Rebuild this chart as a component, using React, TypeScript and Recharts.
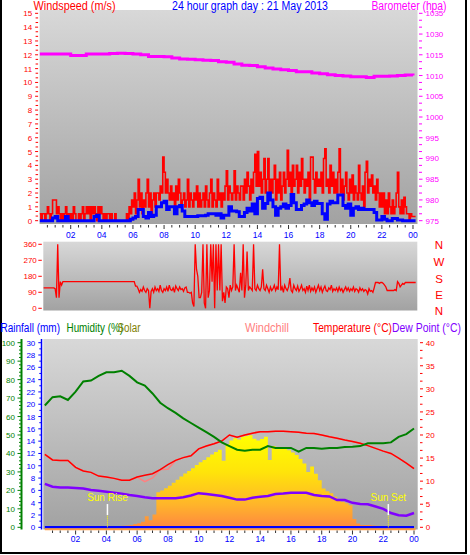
import React from 'react';
import { ComposedChart, Line, Area, XAxis, YAxis, CartesianGrid, ReferenceLine, ReferenceDot } from 'recharts';

const FONT = '"Liberation Sans", Arial, sans-serif';

// ---- time axis ----
const hourLabels = ['02', '04', '06', '08', '10', '12', '14', '16', '18', '20', '22', '00'];
const labelHours = [2, 4, 6, 8, 10, 12, 14, 16, 18, 20, 22, 24];

// wind gust (m/s), 5 minute samples, one row per hour
const gustRows: number[][] = [
  [0.5, 0, 0.5, 0.5, 0, 0.5, 1.0, 0.5, 0, 0.5, 1.5, 1.5],
  [1.5, 0.5, 1.0, 0.5, 0, 0.5, 0, 0.5, 1.0, 0, 0.5, 0],
  [0.5, 0, 1.0, 0.5, 0, 0, 0.5, 0, 0.5, 1.0, 0, 0.5],
  [1.0, 0.5, 1.0, 0, 1.0, 0.5, 1.0, 0.5, 0, 1.0, 0.5, 1.0],
  [0.5, 0, 0.5, 0, 0.5, 0.5, 0, 0.5, 0, 0, 0.5, 0],
  [0, 0, 0, 0, 0, 0, 0, 0.5, 0, 1.0, 0.5, 1.5],
  [1.0, 2.0, 0.5, 1.5, 3.0, 1.0, 2.0, 0.5, 1.5, 1.0, 2.0, 3.0],
  [1.0, 2.0, 0.5, 1.5, 2.0, 1.0, 2.0, 2.0, 1.5, 2.5, 2.0, 4.6],
  [3.5, 2.0, 3.0, 2.0, 1.5, 2.5, 1.5, 2.0, 1.0, 2.5, 1.5, 3.0],
  [2.0, 1.0, 1.5, 2.0, 1.0, 1.5, 3.0, 1.0, 2.0, 1.5, 1.0, 2.0],
  [1.5, 2.5, 1.0, 2.0, 1.0, 1.5, 2.0, 1.0, 2.5, 1.5, 1.0, 2.0],
  [3.0, 1.0, 2.0, 1.5, 1.0, 3.0, 1.5, 2.0, 1.0, 2.0, 1.5, 2.5],
  [3.6, 1.5, 2.5, 2.0, 1.5, 2.0, 3.6, 1.5, 2.5, 2.0, 1.5, 2.5],
  [2.5, 1.5, 3.0, 2.0, 3.5, 2.5, 1.5, 3.0, 2.0, 3.5, 4.8, 2.5],
  [5.0, 2.5, 3.5, 2.0, 3.0, 4.5, 2.0, 3.0, 4.5, 1.5, 3.0, 2.0],
  [3.0, 4.0, 1.5, 3.0, 2.0, 3.5, 1.5, 2.5, 3.5, 2.0, 3.0, 5.1],
  [2.5, 3.5, 2.0, 4.0, 2.5, 3.0, 4.0, 2.0, 3.5, 2.5, 4.5, 3.0],
  [2.0, 3.0, 2.5, 3.5, 1.5, 4.6, 4.6, 3.0, 2.0, 3.5, 2.5, 3.0],
  [2.5, 3.5, 2.0, 4.5, 5.2, 2.5, 3.0, 2.0, 4.0, 2.5, 3.5, 2.0],
  [3.0, 2.0, 3.5, 5.2, 2.0, 3.0, 1.5, 2.5, 3.5, 2.0, 1.5, 3.0],
  [2.0, 3.3, 1.5, 2.5, 2.0, 1.5, 4.0, 2.0, 1.5, 2.5, 1.0, 3.5],
  [4.3, 2.0, 3.0, 2.5, 3.3, 2.0, 2.5, 1.5, 3.0, 2.0, 1.0, 2.0],
  [1.0, 2.0, 0.5, 1.5, 0.5, 2.0, 1.0, 0.5, 1.5, 0.5, 1.0, 2.0],
  [3.5, 1.0, 0.5, 1.5, 0.5, 1.7, 1.0, 0.5, 0.5, 0, 0.5, 0.3],
  [0.3, 0.3, 0.3],
];

// average wind (m/s), 10 minute samples
const avgRows: number[][] = [
  [0, 0, 0, 0, 0, 0.2],
  [0.3, 0, 0, 0, 0.3, 0],
  [0, 0, 0, 0, 0, 0],
  [0, 0, 0, 0.3, 0.4, 0],
  [0, 0, 0, 0, 0, 0],
  [0, 0, 0, 0, 0, 0.1],
  [0.2, 0.3, 0.8, 0.8, 0.3, 0.2],
  [0.6, 0.3, 0.4, 1.0, 1.0, 1.3],
  [1.4, 0.8, 1.0, 1.0, 0.5, 1.0],
  [1.1, 0.7, 0.3, 0.3, 0.3, 0.3],
  [0.3, 0.35, 0.35, 0.35, 0.4, 0.5],
  [0.5, 0.5, 0.4, 0.5, 0.2, 0.4],
  [0.4, 1.0, 0.7, 0.7, 0.65, 0.3],
  [0.3, 0.6, 0.9, 0.7, 1.2, 0.5],
  [1.6, 1.7, 0.9, 1.25, 2.0, 1.5],
  [1.0, 0.4, 0.9, 1.0, 1.2, 0.9],
  [1.1, 1.9, 1.3, 0.8, 0.8, 1.1],
  [1.2, 1.5, 1.3, 1.1, 1.4, 1.25],
  [1.25, 0.5, 0.1, 1.2, 1.4, 1.3],
  [1.3, 1.85, 1.85, 1.1, 0.9, 1.2],
  [0.4, 0.9, 1.0, 0.8, 0.9, 0.8],
  [0.8, 0.8, 0.8, 0.6, 0.05, 0.05],
  [0.3, 0.1, 0, 0, 0.15, 0.15],
  [0.05, 0.05, 0, 0, 0, 0],
  [0, 0],
];

// barometer (hPa), every 30 minutes
const baroValues = [
  1015.2, 1015.2, 1015.2, 1015.2, 1014.8, 1014.8, 1015.2, 1015.2, 1015.2, 1015.3,
  1015.4, 1015.3, 1015.2, 1015.0, 1014.6, 1014.6, 1014.5, 1014.2, 1014.0, 1013.9,
  1013.8, 1013.7, 1013.6, 1013.3, 1013.2, 1012.8, 1012.5, 1012.4, 1012.1, 1011.8,
  1011.6, 1011.4, 1011.2, 1010.9, 1010.9, 1010.6, 1010.4, 1010.2, 1010.0, 1009.9,
  1009.7, 1009.7, 1009.5, 1009.8, 1009.8, 1009.9, 1010.0, 1010.1, 1010.0,
];

// wind direction (degrees), 5 minute samples
const dirRows: number[][] = [
  [115, 115, 115, 115, 115, 115, 115, 115, 115, 115, 115, 115],
  [110, 60, 360, 60, 150, 130, 150, 150, 150, 150, 150, 150],
  [150, 150, 150, 150, 150, 150, 150, 150, 150, 150, 150, 150],
  [150, 150, 150, 150, 150, 150, 150, 150, 150, 150, 150, 150],
  [150, 150, 150, 150, 150, 150, 150, 150, 150, 150, 150, 150],
  [150, 150, 150, 150, 150, 150, 150, 150, 150, 150, 150, 150],
  [150, 150, 125, 125, 110, 90, 105, 95, 120, 100, 90, 110],
  [100, 0, 95, 110, 90, 120, 100, 110, 95, 130, 100, 90],
  [110, 100, 120, 95, 130, 105, 100, 115, 90, 125, 110, 100],
  [120, 105, 110, 95, 115, 120, 90, 90, 85, 90, 30, 10],
  [360, 220, 180, 60, 60, 90, 360, 30, 0, 360, 60, 100],
  [360, 150, 360, 0, 360, 100, 360, 100, 360, 40, 90, 30],
  [120, 110, 60, 130, 100, 120, 360, 100, 130, 110, 90, 200],
  [100, 360, 60, 130, 320, 100, 120, 110, 100, 360, 110, 100],
  [130, 110, 100, 120, 220, 110, 100, 130, 110, 90, 120, 100],
  [110, 130, 100, 120, 105, 360, 100, 120, 90, 130, 110, 100],
  [120, 170, 100, 90, 130, 110, 100, 125, 95, 110, 130, 100],
  [110, 90, 125, 100, 130, 95, 115, 100, 120, 90, 110, 130],
  [100, 120, 90, 110, 125, 100, 95, 115, 105, 130, 95, 110],
  [100, 115, 95, 120, 100, 110, 90, 105, 120, 100, 115, 95],
  [110, 100, 120, 95, 110, 105, 90, 115, 100, 110, 95, 105],
  [100, 80, 110, 95, 100, 90, 115, 145, 145, 145, 140, 145],
  [145, 140, 130, 120, 100, 100, 100, 100, 100, 100, 105, 100],
  [150, 140, 120, 130, 140, 135, 145, 145, 145, 145, 145, 145],
  [145, 145, 145],
];

// every 30 minutes
const humidity = [
  66, 70.5, 71, 69, 73.5, 79, 79.5, 82, 84, 84, 84.8, 82, 78.5, 76.8, 72.5, 67.5, 64.5, 62, 59, 56.5,
  54, 51.5, 49, 46, 44, 42, 41.5, 42, 42, 44, 43, 43, 43, 41, 43, 43, 42.5, 43, 43, 43.5,
  43.7, 44, 45.5, 45.5, 45.5, 46, 49, 50.5, 53.5,
];
const temperature = [
  15.8, 14.6, 14.5, 14.5, 13.0, 12.2, 11.9, 11.1, 10.9, 10.6, 10.2, 10.2, 10.9, 11.3, 11.6, 12.5, 13.6, 14.5, 15.1, 15.5,
  17.0, 17.6, 18.1, 18.7, 20.0, 19.5, 20.0, 20.4, 20.7, 20.7, 20.8, 20.8, 20.7, 20.6, 20.4, 20.3, 20.0, 19.6, 19.3, 18.9,
  18.6, 18.2, 17.7, 17.1, 16.5, 16.0, 15.0, 13.9, 12.7,
];
const windchill = [
  15.8, 14.6, 14.5, 14.5, 13.0, 12.2, 11.9, 11.1, 10.9, 10.6, 10.2, 10.2, 10.9, 9.9, 10.7, 12.5, 12.6, 14.5, 15.1, 15.5,
  17.0, 17.6, 18.1, 18.7, 20.0, 19.5, 20.0, 20.4, 20.7, 20.7, 20.8, 20.8, 20.7, 20.6, 20.4, 20.3, 20.0, 19.6, 19.3, 18.9,
  18.6, 18.2, 17.7, 17.1, 16.5, 16.0, 15.0, 13.9, 12.7,
];
const dewPoint = [
  9.4, 8.8, 8.6, 8.6, 8.5, 8.4, 8.1, 7.9, 7.7, 7.5, 7.3, 7.0, 6.8, 6.5, 6.3, 6.3, 6.3, 6.3, 6.5, 6.9,
  7.4, 7.2, 7.0, 6.8, 6.4, 6.0, 6.0, 6.4, 6.6, 6.8, 7.2, 7.3, 7.5, 7.5, 7.5, 7.0, 6.8, 6.7, 5.9, 5.9,
  5.3, 5.05, 5.0, 4.5, 4.0, 3.1, 2.6, 2.5, 3.1,
];
// solar radiation, every 15 minutes
const solar = [
  0, 0, 0, 0, 0, 0, 0, 0, 0, 0, 0, 0, 0, 0, 0, 0, 0, 0, 0, 5,
  8, 10, 12, 18, 22, 30, 60, 38, 70, 190, 200, 212, 225, 242, 258, 275, 292, 305, 320, 338,
  352, 365, 380, 395, 408, 420, 360, 450, 470, 482, 475, 490, 495, 498, 480, 470, 478, 490, 365, 440,
  432, 430, 428, 418, 405, 392, 370, 345, 300, 330, 290, 255, 210, 195, 185, 165, 150, 138, 130, 120,
  45, 20, 12, 12, 12, 10, 8, 0, 0, 0, 0, 0, 0, 0, 0, 0, 0,
];
// rainfall (mm), hourly
const rainfall = [0, 0, 0, 0, 0, 0, 0, 0, 0, 0, 0, 0, 0, 0, 0, 0, 0, 0, 0, 0, 0, 0, 0, 0, 0];

const sunRiseHour = 4.07;
const sunSetHour = 22.33;

const wsLabels = ['0', '1', '2', '3', '4', '5', '6', '7', '8', '9', '10', '11', '12', '13', '14', '15'];
const baroLabels = ['975', '980', '985', '990', '995', '1000', '1005', '1010', '1015', '1030', '1035'];
const dirLabels = ['0', '90', '180', '270', '360'];
const compassLetters = ['N', 'W', 'S', 'E', 'N'];
const humLabels = ['0', '10', '20', '30', '40', '50', '60', '70', '80', '90', '100'];
const rainLabels = ['0', '2', '4', '6', '8', '10', '12', '14', '16', '18', '20', '22', '24', '26', '28', '30'];
const tempLabels = ['0', '5', '10', '15', '20', '25', '30', '35', '40'];

// ---- tables ----
const toSeries = (vals: number[], step: number) => vals.map((v, i) => ({ h: i * step, v }));
const gustData = toSeries(gustRows.flat(), 1 / 12);
const avgData = toSeries(avgRows.flat(), 1 / 6);
const baroData = toSeries(baroValues, 0.5);
const dirData = toSeries(dirRows.flat(), 1 / 12).filter((d) => d.h >= 0.24);
const humData = toSeries(humidity, 0.5);
const tempData = toSeries(temperature, 0.5);
const chillData = toSeries(windchill, 0.5);
const dewData = toSeries(dewPoint, 0.5);
const rainData = toSeries(rainfall, 1);
const solarData = solar.map((s, i) => ({ h: i / 4, solar: s }));

const steps = (n: number, start: number, step: number) => Array.from({ length: n }, (_, k) => start + k * step);
const halfHours = steps(48, 0.5, 0.5);
const wsTicks = steps(46, 0, 1 / 3);
const baroTicks = steps(31, 975, 5 / 3);
const humTicks = steps(51, 0, 2);
const rainTicks = steps(31, 0, 1);
const tempTicks = steps(25, 0, 5 / 3);

const scaleOf = (axis: any) => (v: number) => (axis && typeof axis.scale === 'function' ? axis.scale(v) : NaN);
const gridX = (vals: number[]) => ({ xAxis }: any) => vals.map(scaleOf(xAxis)).filter((n) => !isNaN(n));
const gridY = (vals: number[]) => ({ yAxis }: any) => vals.map(scaleOf(yAxis)).filter((n) => !isNaN(n));

const xTick = (labelDy: number) => (p: any) => {
  const { x, y, payload } = p;
  const li = labelHours.indexOf(payload.value);
  return (
    <g>
      <line x1={x} x2={x} y1={y + 1} y2={y + (li >= 0 ? 5 : 3.5)} stroke="#333" />
      {li >= 0 && (
        <text x={x} y={y + labelDy} textAnchor="middle" fill="#0000ff" fontSize={8.5} fontFamily={FONT}>
          {hourLabels[li]}
        </text>
      )}
    </g>
  );
};

type YTickCfg = {
  side: 'left' | 'right';
  color: string;
  every: number;
  labels: string[];
  majorLen: number;
  minorLen: number;
  gap: number;
  textGap: number;
};

const yTick = (cfg: YTickCfg) => (p: any) => {
  const { x, y, index } = p;
  const dir = cfg.side === 'left' ? -1 : 1;
  const major = index % cfg.every === 0;
  const len = major ? cfg.majorLen : cfg.minorLen;
  const label = major ? cfg.labels[index / cfg.every] : null;
  return (
    <g>
      {len > 0 && <line x1={x + dir * cfg.gap} x2={x + dir * (cfg.gap + len)} y1={y} y2={y} stroke={cfg.color} />}
      {label != null && (
        <text x={x + dir * cfg.textGap} y={y} dy={3} textAnchor={cfg.side === 'left' ? 'end' : 'start'} fill={cfg.color} fontSize={8} fontFamily={FONT}>
          {label}
        </text>
      )}
    </g>
  );
};

const plotBg = (id: string) => (
  <defs>
    <linearGradient id={id} x1="0" y1="0" x2="0" y2="1">
      <stop offset="0%" stopColor="#d8d8d8" />
      <stop offset="100%" stopColor="#a2a2a2" />
    </linearGradient>
  </defs>
);

const noLine = { tickLine: false, axisLine: false, tickSize: 0, tickMargin: 0, interval: 0 as const, allowDataOverflow: true };

function WindPanel() {
  return (
    <ComposedChart width={470} height={245} data={gustData} margin={{ top: 10, right: 0, bottom: 0, left: 0 }}>
      {plotBg('bg1')}
      <CartesianGrid
        xAxisId={0}
        yAxisId="ws"
        fill="url(#bg1)"
        stroke="#ffffff"
        strokeDasharray="1 4"
        horizontalCoordinatesGenerator={gridY(steps(15, 1, 1))}
        verticalCoordinatesGenerator={gridX(labelHours)}
      />
      <XAxis type="number" dataKey="h" domain={[0, 24.29]} ticks={halfHours} tick={xTick(14)} height={21} {...noLine} />
      <YAxis
        yAxisId="ws"
        width={39.6}
        domain={[-0.24, 15.24]}
        ticks={wsTicks}
        tick={yTick({ side: 'left', color: '#ff0000', every: 3, labels: wsLabels, majorLen: 3, minorLen: 2.5, gap: 1.5, textGap: 7.5 })}
        {...noLine}
      />
      <YAxis
        yAxisId="baro"
        orientation="right"
        width={52.5}
        domain={[974.2, 1025.8]}
        ticks={baroTicks}
        tick={yTick({ side: 'right', color: '#ff00ff', every: 3, labels: baroLabels, majorLen: 3.5, minorLen: 3, gap: 1.5, textGap: 8 })}
        {...noLine}
      />
      <Line yAxisId="ws" dataKey="v" type="stepAfter" stroke="#ff0000" strokeWidth={1.6} dot={false} isAnimationActive={false} />
      <Line yAxisId="ws" data={avgData} dataKey="v" type="stepAfter" stroke="#0000ff" strokeWidth={3} dot={false} isAnimationActive={false} />
      <Line yAxisId="baro" data={baroData} dataKey="v" type="stepAfter" stroke="#ff00ff" strokeWidth={3} dot={false} isAnimationActive={false} />
    </ComposedChart>
  );
}

function DirectionPanel() {
  return (
    <ComposedChart width={470} height={85} data={dirData} margin={{ top: 11.7, right: 52.7, bottom: 4.5, left: 0 }}>
      {plotBg('bg2')}
      <CartesianGrid
        xAxisId={0}
        yAxisId="dir"
        fill="url(#bg2)"
        stroke="#ffffff"
        strokeDasharray="1 4"
        horizontalCoordinatesGenerator={gridY([90, 180, 270])}
        verticalCoordinatesGenerator={gridX(labelHours)}
      />
      <XAxis type="number" dataKey="h" domain={[0.24, 24.27]} hide allowDataOverflow />
      <YAxis
        yAxisId="dir"
        width={43.3}
        domain={[-12.4, 374.6]}
        ticks={[0, 90, 180, 270, 360]}
        tick={yTick({ side: 'left', color: '#ff0000', every: 1, labels: dirLabels, majorLen: 3.5, minorLen: 0, gap: 1.5, textGap: 6.5 })}
        {...noLine}
      />
      <Line yAxisId="dir" dataKey="v" type="linear" stroke="#ff0000" strokeWidth={1.3} dot={false} isAnimationActive={false} />
    </ComposedChart>
  );
}

// rain axis id sorts before the humidity one so it sits next to the plot
const RAIN = 'aRain';
const HUM = 'bHum';

function ClimatePanel() {
  return (
    <ComposedChart width={470} height={235} data={solarData} margin={{ top: 19, right: 0, bottom: 0, left: 0 }}>
      {plotBg('bg3')}
      <defs>
        <linearGradient id="solarGrad" x1="0" y1="0" x2="0" y2="1">
          <stop offset="0%" stopColor="#ffff00" />
          <stop offset="40%" stopColor="#ffe40a" />
          <stop offset="75%" stopColor="#ffb52a" />
          <stop offset="100%" stopColor="#ff8840" />
        </linearGradient>
      </defs>
      <CartesianGrid
        xAxisId={0}
        yAxisId={HUM}
        fill="url(#bg3)"
        stroke="#ffffff"
        strokeDasharray="1 4"
        horizontalCoordinatesGenerator={gridY(steps(10, 10, 10))}
        verticalCoordinatesGenerator={gridX(labelHours)}
      />
      <XAxis type="number" dataKey="h" domain={[-0.1, 24.24]} ticks={halfHours} tick={xTick(12.5)} height={25.5} {...noLine} />
      <YAxis
        yAxisId={RAIN}
        width={21.3}
        domain={[-0.357, 30.6]}
        ticks={rainTicks}
        tick={yTick({ side: 'left', color: '#0000ff', every: 2, labels: rainLabels, majorLen: 3, minorLen: 2, gap: 2, textGap: 8 })}
        {...noLine}
      />
      <YAxis
        yAxisId={HUM}
        width={22}
        domain={[-1.19, 102]}
        ticks={humTicks}
        tick={yTick({ side: 'left', color: '#008000', every: 5, labels: humLabels, majorLen: 4, minorLen: 2.5, gap: 0.5, textGap: 7 })}
        {...noLine}
      />
      <YAxis
        yAxisId="temp"
        orientation="right"
        width={52.3}
        domain={[-0.476, 40.8]}
        ticks={tempTicks}
        tick={yTick({ side: 'right', color: '#ff0000', every: 3, labels: tempLabels, majorLen: 3, minorLen: 2.5, gap: 2.3, textGap: 8 })}
        {...noLine}
      />
      <YAxis yAxisId="sol" hide domain={[-11.9, 1020]} allowDataOverflow />
      <Area yAxisId="sol" dataKey="solar" type="stepAfter" fill="url(#solarGrad)" fillOpacity={1} stroke="none" isAnimationActive={false} />
      <Line yAxisId="temp" data={chillData} dataKey="v" stroke="#ff8080" strokeWidth={1.5} dot={false} isAnimationActive={false} />
      <Line yAxisId="temp" data={tempData} dataKey="v" stroke="#ff0000" strokeWidth={1.5} dot={false} isAnimationActive={false} />
      <Line yAxisId={HUM} data={humData} dataKey="v" stroke="#008000" strokeWidth={2} dot={false} isAnimationActive={false} />
      <Line yAxisId="temp" data={dewData} dataKey="v" stroke="#8000ff" strokeWidth={2.5} dot={false} isAnimationActive={false} />
      <Line yAxisId={RAIN} data={rainData} dataKey="v" stroke="#0000ff" strokeWidth={2.5} dot={false} isAnimationActive={false} />
      <ReferenceLine yAxisId={HUM} segment={[{ x: 0, y: -1 }, { x: 24.1, y: -1 }]} stroke="#ff9a40" strokeWidth={2} />
      <ReferenceLine yAxisId={HUM} segment={[{ x: sunRiseHour, y: 6.6 }, { x: sunRiseHour, y: 12.6 }]} stroke="#ffffff" strokeWidth={1.5} />
      <ReferenceLine yAxisId={HUM} segment={[{ x: sunRiseHour, y: 0 }, { x: sunRiseHour, y: 6.6 }]} stroke="#ffff00" strokeDasharray="1 1" />
      <ReferenceLine yAxisId={HUM} segment={[{ x: sunSetHour, y: 6.6 }, { x: sunSetHour, y: 12.6 }]} stroke="#ffffff" strokeWidth={1.5} />
      <ReferenceLine yAxisId={HUM} segment={[{ x: sunSetHour, y: 0 }, { x: sunSetHour, y: 6.6 }]} stroke="#ffff00" strokeDasharray="1 1" />
      <ReferenceDot yAxisId={HUM} x={sunRiseHour} y={16} r={1} fill="none" stroke="none"
        label={{ value: 'Sun Rise', position: 'center', fill: '#ffff00', fontSize: 10, fontFamily: FONT }} />
      <ReferenceDot yAxisId={HUM} x={sunSetHour} y={16} r={1} fill="none" stroke="none"
        label={{ value: 'Sun Set', position: 'center', fill: '#ffff00', fontSize: 10, fontFamily: FONT }} />
    </ComposedChart>
  );
}

function Overlay() {
  const t = (x: number, y: number, w: number, color: string, s: string, size = 12.5) => (
    <text x={x} y={y} fill={color} fontSize={size} textLength={w} lengthAdjust="spacingAndGlyphs">{s}</text>
  );
  const compassY = [245, 262, 278.3, 295, 311];
  return (
    <svg width={470} height={555} style={{ position: 'absolute', left: 0, top: 0, pointerEvents: 'none' }} fontFamily={FONT}>
      {t(33.5, 9.5, 82, '#ff0000', 'Windspeed (m/s)')}
      {t(172, 9.5, 156, '#0000ff', '24 hour graph day : 21 May 2013')}
      {t(371.5, 9.5, 75, '#ff00ff', 'Barometer (hpa)')}
      {compassLetters.map((c, i) => (
        <text key={i} x={439} y={compassY[i] + 4.2} textAnchor="middle" fill="#ff0000" fontSize={11.5}>{c}</text>
      ))}
      {t(0.5, 331.5, 59.5, '#0000ff', 'Rainfall (mm)')}
      {t(66.5, 331.5, 56.5, '#008000', 'Humidity (%)')}
      {t(117.5, 331.5, 23, '#808000', 'Solar')}
      {t(245, 331.5, 44, '#ff8080', 'Windchill')}
      {t(313, 331.5, 79, '#ff0000', 'Temperature (°C)')}
      {t(392, 331.5, 69, '#8000ff', 'Dew Point (°C)')}
      <line x1={21.5} x2={21.5} y1={339} y2={529.5} stroke="#008000" strokeWidth={2} />
      <line x1={41.5} x2={41.5} y1={339} y2={529.5} stroke="#0000ff" strokeWidth={1.5} />
    </svg>
  );
}

export default function App() {
  return (
    <div style={{ position: 'absolute', left: 0, top: 0, width: 470, height: 555, background: '#ffffff', overflow: 'hidden', fontFamily: FONT }}>
      <div style={{ position: 'absolute', left: 0, top: -5, width: 467, height: 559, border: '2px solid #000', boxSizing: 'border-box' }} />
      <div style={{ position: 'absolute', left: 0, top: 0 }}><WindPanel /></div>
      <div style={{ position: 'absolute', left: 0, top: 230 }}><DirectionPanel /></div>
      <div style={{ position: 'absolute', left: 0, top: 320 }}><ClimatePanel /></div>
      <Overlay />
    </div>
  );
}
